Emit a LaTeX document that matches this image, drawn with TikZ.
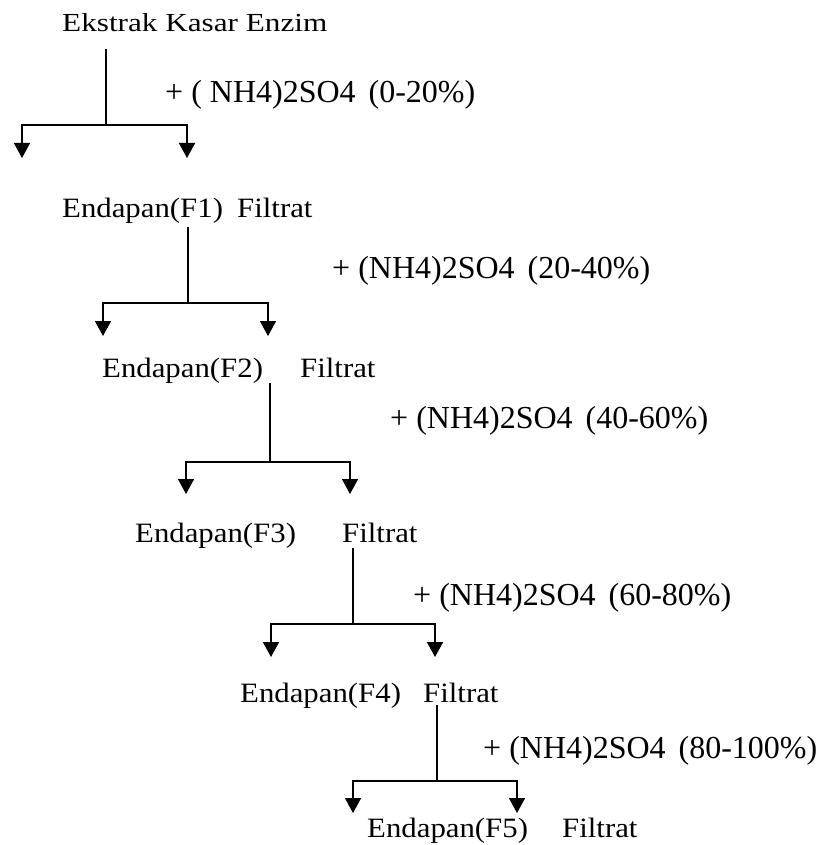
\documentclass[tikz,border=0pt]{standalone}
\usepackage{fontspec}
\setmainfont{Liberation Serif}
\newfontfamily\rowf{Liberation Serif}[FakeStretch=1.1]
\newfontfamily\topf{Liberation Serif}[FakeStretch=1.2]
\usetikzlibrary{arrows.meta}
\newcommand{\gap}{\hspace{13pt}}
\tikzset{
  txt/.style={anchor=base west, inner sep=0pt, font=\rowf\fontsize{28}{30}\selectfont},
  toptxt/.style={txt, font=\topf\fontsize{26}{28}\selectfont},
  lab/.style={txt, font=\fontsize{32}{34}\selectfont},
  stem/.style={line width=1.3pt},
  split/.style={line width=1.6pt, {Triangle[width=16pt,length=15pt]}-{Triangle[width=16pt,length=15pt]}},
}
\begin{document}
\begin{tikzpicture}[x=1pt,y=-1pt]
\useasboundingbox (0,0) rectangle (822,845);

% texts
\node[toptxt] (ek) at (62,32) {Ekstrak Kasar Enzim};
\node[lab] (l1) at (165,103) {+ ( NH4)2SO4\gap(0-20\%)};

\node[txt] (e1) at (62,217) {Endapan(F1)};
\node[txt] (f1) at (237,217) {Filtrat};
\node[lab] (l2) at (332,278) {+ (NH4)2SO4\gap(20-40\%)};

\node[txt] (e2) at (102,377) {Endapan(F2)};
\node[txt] (f2) at (300,377) {Filtrat};
\node[lab] (l3) at (390,428) {+ (NH4)2SO4\gap(40-60\%)};

\node[txt] (e3) at (135,542) {Endapan(F3)};
\node[txt] (f3) at (342,542) {Filtrat};
\node[lab] (l4) at (413,605) {+ (NH4)2SO4\gap(60-80\%)};

\node[txt] (e4) at (240,702) {Endapan(F4)};
\node[txt] (f4) at (423,702) {Filtrat};
\node[lab] (l5) at (483,758) {+ (NH4)2SO4\gap(80-100\%)};

\node[txt] (e5) at (367,837) {Endapan(F5)};
\node[txt] (f5) at (562,837) {Filtrat};

% stage 1
\coordinate (v1) at (106,49);  \coordinate (s1) at (106,125);
\coordinate (b1l) at (22,125); \coordinate (b1r) at (187,125);
\coordinate (t1l) at (22,158); \coordinate (t1r) at (187,158);
% stage 2
\coordinate (v2) at (188,227); \coordinate (s2) at (188,303);
\coordinate (b2l) at (103,303); \coordinate (b2r) at (268,303);
\coordinate (t2l) at (103,336); \coordinate (t2r) at (268,336);
% stage 3
\coordinate (v3) at (270,383); \coordinate (s3) at (270,462);
\coordinate (b3l) at (186,462); \coordinate (b3r) at (350,462);
\coordinate (t3l) at (186,494); \coordinate (t3r) at (350,494);
% stage 4
\coordinate (v4) at (353,548); \coordinate (s4) at (353,624);
\coordinate (b4l) at (271,624); \coordinate (b4r) at (435,624);
\coordinate (t4l) at (271,657); \coordinate (t4r) at (435,657);
% stage 5
\coordinate (v5) at (437,705); \coordinate (s5) at (437,781);
\coordinate (b5l) at (353,781); \coordinate (b5r) at (517,781);
\coordinate (t5l) at (353,813); \coordinate (t5r) at (517,813);

\foreach \i in {1,...,5}{
  \draw[stem] (v\i) -- (s\i);
  \draw[split] (t\i l) -- (b\i l) -- (b\i r) -- (t\i r);
}
\end{tikzpicture}
\end{document}
